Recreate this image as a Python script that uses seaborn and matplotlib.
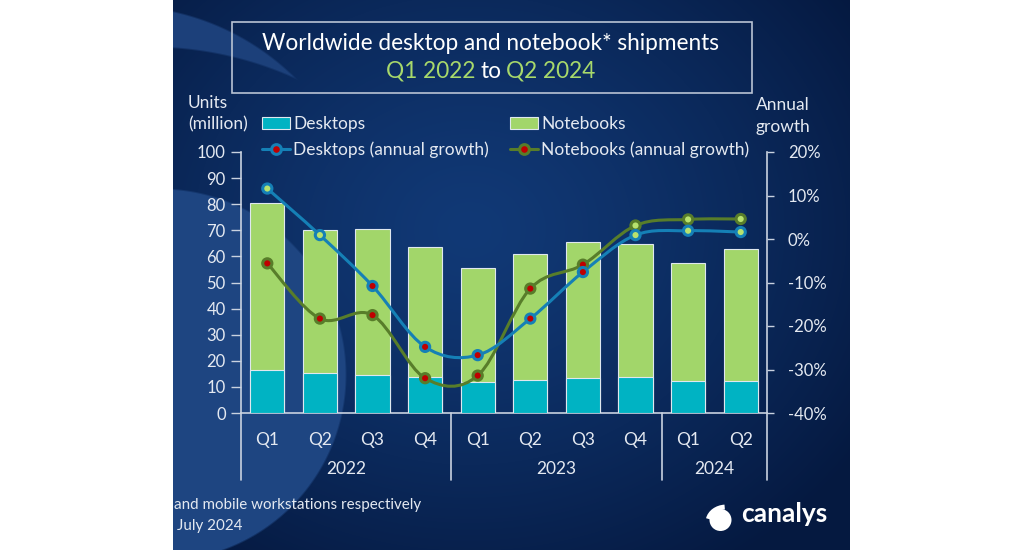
import numpy as np
import pandas as pd
import matplotlib
matplotlib.use("Agg")
import matplotlib.pyplot as plt
import seaborn as sns
from matplotlib.patches import Rectangle, Patch, PathPatch, Circle, Arc
from matplotlib.lines import Line2D
from matplotlib.path import Path
import matplotlib.transforms as mtransforms

# ---------------- data ----------------
quarters = ["Q1", "Q2", "Q3", "Q4", "Q1", "Q2", "Q3", "Q4", "Q1", "Q2"]
years = ["2022", "2022", "2022", "2022", "2023", "2023", "2023", "2023", "2024", "2024"]
desktops = [16.3, 15.2, 14.4, 13.8, 11.7, 12.5, 13.4, 13.8, 12.1, 12.4]
notebooks = [64.2, 55.1, 56.2, 49.8, 43.8, 48.6, 52.1, 50.9, 45.5, 50.5]
desktop_growth = [11.6, 0.9, -10.8, -24.8, -26.7, -18.3, -7.6, 0.9, 1.9, 1.6]
notebook_growth = [-5.6, -18.3, -17.5, -32.0, -31.4, -11.4, -5.9, 3.1, 4.5, 4.6]
year_labels = ["2022", "2023", "2024"]
left_ticks = list(range(0, 101, 10))
right_ticks = [-40, -30, -20, -10, 0, 10, 20]

# ---------------- style ----------------
sns.set_theme(style="white")
plt.rcParams["font.family"] = ["Lato", "DejaVu Sans"]
TXT = "#e4e9f1"
AXC = "#c9d2e0"
C_DESK = "#00b3c3"
C_NOTE = "#a2d66a"
C_DLINE = "#1580b6"
C_NLINE = "#587d2a"
C_NEG = "#c00000"
C_POS = "#b8e26e"

W, H = 1024, 550
fig = plt.figure(figsize=(W / 100, H / 100), dpi=100)
fig.patch.set_facecolor("white")

def fx(x):
    return x / W

def fy(y):
    return 1 - y / H

# ---------------- background ----------------
x0, x1 = 173, 850
bg = fig.add_axes([fx(x0), 0, (x1 - x0) / W, 1])
bg.set_zorder(-5)
bg.axis("off")
X, Y = np.meshgrid(np.arange(x0, x1) + 0.5, np.arange(0, H) + 0.5)
c_in = np.array([0x11, 0x39, 0x76]) / 255
c_out = np.array([0x05, 0x19, 0x40]) / 255
d = np.sqrt(((X - 470) / 470) ** 2 + ((Y - 230) / 400) ** 2)
t = np.clip(d, 0, 1) ** 1.3
img = c_in[None, None, :] * (1 - t[..., None]) + c_out[None, None, :] * t[..., None]
c_sw = np.array([0x1e, 0x45, 0x81]) / 255
r = np.sqrt((X - 160) ** 2 + (Y - 375) ** 2)
m = np.clip((187 - r) / 2.0, 0, 1)
img = img * (1 - m[..., None]) + c_sw[None, None, :] * m[..., None]
rA = np.sqrt((X - 120) ** 2 + (Y - 255) ** 2)
rB = np.sqrt((X - 150) ** 2 + (Y - 400) ** 2)
mc = np.clip((250 - rA) / 2.0, 0, 1) * np.clip((rB - 352) / 2.0, 0, 1)
c_cr = np.array([0x1c, 0x40, 0x7a]) / 255
img = img * (1 - mc[..., None]) + c_cr[None, None, :] * mc[..., None]
bg.imshow(img, extent=[x0, x1, H, 0], aspect="auto", interpolation="bilinear")
bg.set_xlim(x0, x1)
bg.set_ylim(H, 0)

# ---------------- main axes ----------------
ax = fig.add_axes([fx(241), fy(413), (767 - 241) / W, (413 - 152) / H])
ax.set_facecolor("none")
df = pd.DataFrame({
    "cat": [f"{q} {y}" for q, y in zip(quarters, years)],
    "desk": desktops,
    "note": notebooks,
})
df["total"] = df["desk"] + df["note"]
sns.barplot(data=df, x="cat", y="total", color=C_NOTE, saturation=1, width=0.65,
            edgecolor="#dfe8ef", linewidth=0.8, ax=ax, zorder=2)
sns.barplot(data=df, x="cat", y="desk", color=C_DESK, saturation=1, width=0.65,
            edgecolor="#dfe8ef", linewidth=0.8, ax=ax, zorder=3)
ax.set_xlim(-0.5, 9.5)
ax.set_ylim(0, 100)
ax.set_yticks(left_ticks)
ax.set_yticklabels([str(v) for v in left_ticks], color=TXT, fontsize=12)
ax.set_xticks(range(len(quarters)))
ax.set_xticklabels(quarters, color=TXT, fontsize=12.5)
ax.tick_params(axis="x", length=0, pad=14)
ax.tick_params(axis="y", length=7, width=1, color=AXC, pad=4, direction="out")
ax.set_xlabel("")
ax.set_ylabel("")
for s in ["top", "right"]:
    ax.spines[s].set_visible(False)
for s in ["left", "bottom"]:
    ax.spines[s].set_color(AXC)
    ax.spines[s].set_linewidth(1.2)
ax.grid(False)

trans = mtransforms.blended_transform_factory(ax.transData, ax.transAxes)
for xb in [-0.5, 3.5, 7.5, 9.5]:
    ax.plot([xb, xb], [0, -67 / 261], color=AXC, lw=1.2, transform=trans, clip_on=False)
for lab, xc in zip(year_labels, [1.5, 5.5, 8.5]):
    ax.text(xc, -56 / 261, lab, transform=trans, ha="center", va="center", color=TXT, fontsize=12.5)

# ---------------- growth axis ----------------
ax2 = ax.twinx()
ax2.set_facecolor("none")
ax2.set_ylim(-40, 20)
ax2.set_yticks(right_ticks)
ax2.set_yticklabels([f"{v}%" for v in right_ticks], color=TXT, fontsize=12)
ax2.tick_params(axis="y", length=5, width=1, color=AXC, pad=10, direction="out")
for s in ["top", "left", "bottom"]:
    ax2.spines[s].set_visible(False)
ax2.spines["right"].set_color(AXC)
ax2.spines["right"].set_linewidth(1.2)
ax2.grid(False)

def smooth_path(xs, ys):
    pts = np.column_stack([xs, ys]).astype(float)
    n = len(pts)
    verts = [pts[0]]
    codes = [Path.MOVETO]
    for i in range(n - 1):
        p0 = pts[i - 1] if i > 0 else pts[i]
        p1 = pts[i]
        p2 = pts[i + 1]
        p3 = pts[i + 2] if i + 2 < n else pts[i + 1]
        c1 = p1 + (p2 - p0) / 6.0
        c2 = p2 - (p3 - p1) / 6.0
        verts += [c1, c2, p2]
        codes += [Path.CURVE4] * 3
    return Path(verts, codes)

xs = np.arange(len(quarters))
for vals, col, z in [(notebook_growth, C_NLINE, 5), (desktop_growth, C_DLINE, 6)]:
    ax2.add_patch(PathPatch(smooth_path(xs, vals), facecolor="none", edgecolor=col,
                            lw=2.2, zorder=z, capstyle="round"))
    sign = ["pos" if v >= 0 else "neg" for v in vals]
    sns.scatterplot(x=xs, y=vals, hue=sign, palette={"pos": C_POS, "neg": C_NEG},
                    edgecolor=col, linewidth=2.2, s=44, legend=False, ax=ax2, zorder=z + 2)
ax2.set_xlim(-0.5, 9.5)
ax2.set_ylim(-40, 20)

# ---------------- legend ----------------
handles = [
    Patch(facecolor=C_DESK, edgecolor="#dfe8ef", lw=0.8),
    Line2D([0], [0], color=C_DLINE, lw=2.2, marker="o", markersize=7,
           markerfacecolor=C_NEG, markeredgecolor=C_DLINE, markeredgewidth=2.2),
    Patch(facecolor=C_NOTE, edgecolor="#dfe8ef", lw=0.8),
    Line2D([0], [0], color=C_NLINE, lw=2.2, marker="o", markersize=7,
           markerfacecolor=C_NEG, markeredgecolor=C_NLINE, markeredgewidth=2.2),
]
labels = ["Desktops", "Desktops (annual growth)", "Notebooks", "Notebooks (annual growth)"]
leg = fig.legend(handles, labels, ncol=2, loc="upper left",
                 bbox_to_anchor=(fx(262), fy(116)), frameon=False, fontsize=12.5,
                 handlelength=1.6, handletextpad=0.2, columnspacing=1.2,
                 labelspacing=0.55, borderpad=0, borderaxespad=0)
for tx in leg.get_texts():
    tx.set_color(TXT)

# ---------------- texts ----------------
fig.text(fx(188), fy(103), "Units", color=TXT, fontsize=12.5, ha="left", va="center")
fig.text(fx(188), fy(124), "(million)", color=TXT, fontsize=12.5, ha="left", va="center")
fig.text(fx(783), fy(105), "Annual", color=TXT, fontsize=12.5, ha="center", va="center")
fig.text(fx(783), fy(127), "growth", color=TXT, fontsize=12.5, ha="center", va="center")

fig.patches.append(Rectangle((fx(232), fy(93)), (752 - 232) / W, (93 - 22) / H,
                             transform=fig.transFigure, facecolor="none",
                             edgecolor="#b9c3d4", lw=1.2))
TS = 16.3
fig.text(fx(491), fy(44), "Worldwide desktop and notebook* shipments", color="white",
         fontsize=TS, ha="center", va="center")
fig.text(fx(476), fy(71), "Q1 2022", color="#a8d96b", fontsize=TS, ha="right", va="center")
fig.text(fx(491), fy(71), "to", color="white", fontsize=TS, ha="center", va="center")
fig.text(fx(506), fy(71), "Q2 2024", color="#a8d96b", fontsize=TS, ha="left", va="center")

fig.text(fx(174), fy(505), "and mobile workstations respectively", color=TXT,
         fontsize=10.9, ha="left", va="center")
fig.text(fx(177), fy(526), "July 2024", color=TXT, fontsize=10.9, ha="left", va="center")

# logo (pixel-based drawing via dpi transform)
pt = fig.dpi_scale_trans
fig.patches.append(Circle((7.205, (H - 520) / 100), 0.11, transform=pt,
                          facecolor="white", edgecolor="none"))
fig.patches.append(Arc((7.26, (H - 522) / 100), 0.36, 0.30, theta1=95, theta2=170,
                       transform=pt, edgecolor="white", lw=3.5))
fig.text(fx(741), fy(514), "canalys", color="white", fontsize=19, fontweight="bold",
         ha="left", va="center")

fig.savefig("out.png", dpi=100)
